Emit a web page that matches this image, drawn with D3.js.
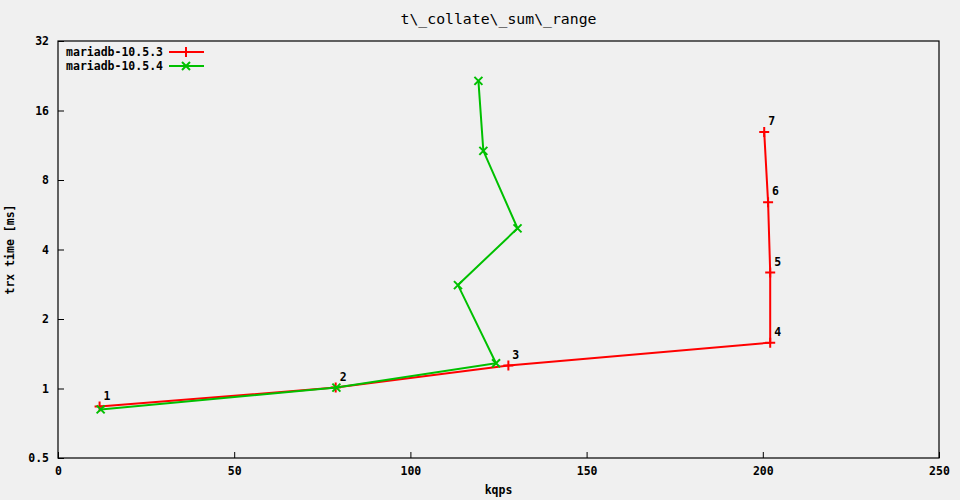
<!DOCTYPE html>
<html>
<head>
<meta charset="utf-8">
<script src="https://cdn.jsdelivr.net/npm/d3@7"></script>
<style>
body { margin: 0; background: #f0f0f0; }
text { font-family: "DejaVu Sans Mono", monospace; font-weight: bold; font-size: 11.5px; fill: #000; }
text.title { font-weight: normal; font-size: 14.8px; }
</style>
</head>
<body>
<div id="chart"></div>
<script>
var svgWidth = 960;
var svgHeight = 500;

var margin = { top: 41, right: 21, bottom: 42, left: 58 };
var chartWidth = svgWidth - margin.left - margin.right;
var chartHeight = svgHeight - margin.top - margin.bottom;

// data
var seriesNames = ["mariadb-10.5.3", "mariadb-10.5.4"];
var seriesColors = ["#ff0000", "#00c000"];
var pointLabels = ["1", "2", "3", "4", "5", "6", "7"];
var kqps1053 = [11.8, 78.8, 127.8, 202.1, 202.1, 201.5, 200.4];
var trx1053 = [0.835, 1.009, 1.257, 1.58, 3.18, 6.4, 12.9];
var kqps1054 = [12.1, 79.0, 124.3, 113.5, 130.4, 120.7, 119.3];
var trx1054 = [0.812, 1.009, 1.287, 2.805, 4.94, 10.7, 21.5];
var xTicks = [0, 50, 100, 150, 200, 250];
var yTicks = [0.5, 1, 2, 4, 8, 16, 32];

var svg = d3.select("#chart")
    .append("svg")
    .attr("width", svgWidth)
    .attr("height", svgHeight)
    .style("background", "#f0f0f0");

var chartGroup = svg.append("g")
    .attr("transform", `translate(${margin.left}, ${margin.top})`);

var xScale = d3.scaleLinear().domain([0, 250]).range([0, chartWidth]);
var yScale = d3.scaleLog().base(2).domain([0.5, 32]).range([chartHeight, 0]);

// ticks (inward)
var xAxis = chartGroup.append("g")
    .attr("transform", `translate(0,${chartHeight})`)
    .call(d3.axisBottom(xScale).tickValues(xTicks).tickSizeInner(-6).tickSizeOuter(0).tickPadding(9).tickFormat(d3.format("d")));
var yAxis = chartGroup.append("g")
    .call(d3.axisLeft(yScale).tickValues(yTicks).tickSizeInner(-6).tickSizeOuter(0).tickPadding(9).tickFormat(d => d));

[xAxis, yAxis].forEach(function(a) {
    a.select(".domain").remove();
    a.selectAll("line").attr("stroke", "#000");
    a.selectAll("text").attr("font-family", null).attr("font-size", null);
});

chartGroup.append("rect")
    .attr("width", chartWidth)
    .attr("height", chartHeight)
    .attr("fill", "none")
    .attr("stroke", "#000")
    .attr("stroke-width", 1.2);

var series = [
    { name: seriesNames[0], color: seriesColors[0], marker: "plus", data: kqps1053.map((k, i) => ({ x: k, y: trx1053[i] })) },
    { name: seriesNames[1], color: seriesColors[1], marker: "cross", data: kqps1054.map((k, i) => ({ x: k, y: trx1054[i] })) }
];

var line = d3.line().x(d => xScale(d.x)).y(d => yScale(d.y));

function markerPath(type, cx, cy) {
    var s = 5;
    if (type == "plus") {
        return `M${cx - s},${cy}H${cx + s}M${cx},${cy - s}V${cy + s}`;
    }
    s = 4;
    return `M${cx - s},${cy - s}L${cx + s},${cy + s}M${cx - s},${cy + s}L${cx + s},${cy - s}`;
}

series.forEach(function(s) {
    chartGroup.append("path")
        .datum(s.data)
        .attr("d", line)
        .attr("fill", "none")
        .attr("stroke", s.color)
        .attr("stroke-width", 2);
    chartGroup.selectAll(null)
        .data(s.data)
        .enter()
        .append("path")
        .attr("d", d => markerPath(s.marker, xScale(d.x), yScale(d.y)))
        .attr("stroke", s.color)
        .attr("stroke-width", 2)
        .attr("fill", "none");
});

// point labels on the first series
chartGroup.selectAll(".ptlabel")
    .data(series[0].data)
    .enter()
    .append("text")
    .attr("class", "ptlabel")
    .attr("x", d => xScale(d.x) + 4)
    .attr("y", d => yScale(d.y) - 7)
    .text((d, i) => pointLabels[i]);

// legend
var legend = chartGroup.append("g");
series.forEach(function(s, i) {
    var ly = 11 + i * 14;
    legend.append("text")
        .attr("x", 105)
        .attr("y", ly)
        .attr("dy", "0.35em")
        .attr("text-anchor", "end")
        .text(s.name);
    legend.append("line")
        .attr("x1", 111).attr("x2", 146)
        .attr("y1", ly).attr("y2", ly)
        .attr("stroke", s.color)
        .attr("stroke-width", 2);
    legend.append("path")
        .attr("d", markerPath(s.marker, 128, ly))
        .attr("stroke", s.color)
        .attr("stroke-width", 2)
        .attr("fill", "none");
});

// titles
svg.append("text")
    .attr("class", "title")
    .attr("x", margin.left + chartWidth / 2)
    .attr("y", 24)
    .attr("text-anchor", "middle")
    .text("t\\_collate\\_sum\\_range");

svg.append("text")
    .attr("x", margin.left + chartWidth / 2)
    .attr("y", 494)
    .attr("text-anchor", "middle")
    .text("kqps");

svg.append("text")
    .attr("transform", `translate(14,${margin.top + chartHeight / 2}) rotate(-90)`)
    .attr("text-anchor", "middle")
    .text("trx time [ms]");
</script>
</body>
</html>
